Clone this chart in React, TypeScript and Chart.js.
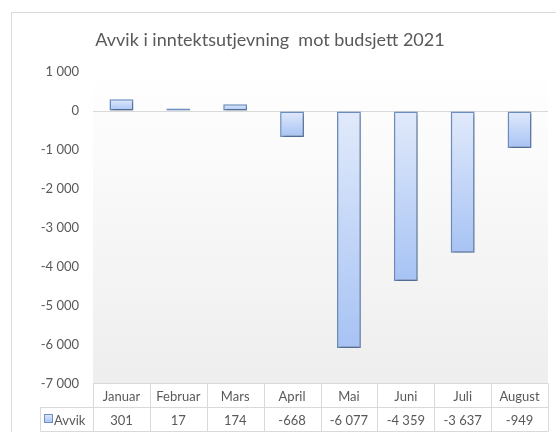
import React, { useEffect, useRef } from "react";
import { Chart, registerables } from "chart.js";

Chart.register(...registerables);

const title = "Avvik i inntektsutjevning  mot budsjett 2021";
const categories = ["Januar", "Februar", "Mars", "April", "Mai", "Juni", "Juli", "August"];
const seriesName = "Avvik";
const values = [301, 17, 174, -668, -6077, -4359, -3637, -949];
const yMin = -7000;
const yMax = 1000;
const yStep = 1000;

const FONT = "Lato, 'Open Sans', sans-serif";
const TEXT = "#595959";
const GRID = "#d9d9d9";

function fmt(n: number): string {
  const s = Math.abs(Math.round(n)).toString().replace(/\B(?=(\d{3})+(?!\d))/g, " ");
  return (n < 0 ? "-" : "") + s;
}

const framePlugin = {
  id: "frame",
  beforeDraw(chart: any) {
    const { ctx, chartArea } = chart;
    ctx.save();
    ctx.fillStyle = "#ffffff";
    ctx.fillRect(0, 0, chart.width, chart.height);
    ctx.strokeStyle = GRID;
    ctx.lineWidth = 1;
    ctx.strokeRect(11.5, 12.5, chart.width + 10, chart.height + 10);
    const g = ctx.createLinearGradient(0, chartArea.top, 0, chartArea.bottom);
    g.addColorStop(0, "#ffffff");
    g.addColorStop(1, "#eeeeee");
    ctx.fillStyle = g;
    ctx.fillRect(chartArea.left, chartArea.top, chartArea.right - chartArea.left, chartArea.bottom - chartArea.top);
    ctx.font = "18px " + FONT;
    ctx.fillStyle = TEXT;
    ctx.textAlign = "center";
    ctx.textBaseline = "middle";
    ctx.fillText(title, 270, 40);
    ctx.restore();
  },
  beforeDatasetsDraw(chart: any) {
    const ctx = chart.ctx;
    ctx.save();
    ctx.shadowColor = "rgba(0,0,0,0.3)";
    ctx.shadowBlur = 3;
    ctx.shadowOffsetX = 1;
    ctx.shadowOffsetY = 2;
  },
  afterDatasetsDraw(chart: any) {
    chart.ctx.restore();
  },
  afterDraw(chart: any) {
    const { ctx, chartArea, scales } = chart;
    const x = scales.x;
    const n = categories.length;
    const left = chartArea.left;
    const right = chartArea.right;
    const colW = (right - left) / n;
    const top = chartArea.bottom - 0.5;
    const mid = top + 24;
    const bot = mid + 24;
    const legLeft = 40.5;
    ctx.save();
    ctx.strokeStyle = GRID;
    ctx.lineWidth = 1;
    ctx.beginPath();
    ctx.moveTo(left, top);
    ctx.lineTo(right, top);
    ctx.moveTo(legLeft, mid);
    ctx.lineTo(right, mid);
    ctx.moveTo(legLeft, bot);
    ctx.lineTo(right, bot);
    ctx.moveTo(legLeft, mid);
    ctx.lineTo(legLeft, bot);
    for (let i = 0; i <= n; i++) {
      const xx = Math.round(left + i * colW) + 0.5;
      ctx.moveTo(xx, top);
      ctx.lineTo(xx, bot);
    }
    ctx.stroke();
    ctx.font = "13px " + FONT;
    ctx.fillStyle = TEXT;
    ctx.textAlign = "center";
    ctx.textBaseline = "middle";
    for (let i = 0; i < n; i++) {
      const cx = x.getPixelForValue(i);
      ctx.fillText(categories[i], cx, (top + mid) / 2 + 1);
      ctx.fillText(fmt(values[i]), cx, (mid + bot) / 2 + 1);
    }
    // legend key
    const g = ctx.createLinearGradient(0, 414, 0, 423);
    g.addColorStop(0, "#e1eafb");
    g.addColorStop(1, "#a7c3f4");
    ctx.fillStyle = g;
    ctx.fillRect(44.5, 414.5, 8, 8);
    ctx.strokeStyle = "#6d8fc4";
    ctx.strokeRect(44.5, 414.5, 8, 8);
    ctx.fillStyle = TEXT;
    ctx.textAlign = "left";
    ctx.fillText(seriesName, 54, (mid + bot) / 2 + 1);
    ctx.restore();
  },
};

export default function App() {
  const ref = useRef<HTMLCanvasElement | null>(null);
  useEffect(() => {
    document.body.style.margin = "0";
    const canvas = ref.current!;
    const chart = new Chart(canvas, {
      type: "bar",
      data: {
        labels: categories,
        datasets: [
          {
            label: seriesName,
            data: values,
            backgroundColor: (c: any) => {
              const ch = c.chart;
              const area = ch.chartArea;
              const ys = ch.scales && ch.scales.y;
              if (!area || !ys || typeof c.raw !== "number") return "#c3d5f7";
              const y0 = ys.getPixelForValue(0);
              const y1 = ys.getPixelForValue(c.raw);
              const t = Math.min(y0, y1);
              const b = Math.max(y0, y1);
              if (b - t < 1) return "#c3d5f7";
              const g = ch.ctx.createLinearGradient(0, t, 0, b);
              g.addColorStop(0, "#e1eafb");
              g.addColorStop(1, "#a7c3f4");
              return g;
            },
            borderColor: "#6d8fc4",
            borderWidth: 1.5,
            borderSkipped: false,
            minBarLength: 2.5,
            barPercentage: 0.42,
            categoryPercentage: 1,
          },
        ],
      },
      options: {
        responsive: false,
        animation: false,
        layout: { padding: { left: 0, right: 8, top: 72, bottom: 48 } },
        plugins: {
          legend: { display: false },
          title: { display: false },
          tooltip: { enabled: false },
        },
        scales: {
          x: { display: false },
          y: {
            min: yMin,
            max: yMax,
            afterFit: (s: any) => {
              s.width = 93;
            },
            border: { display: false },
            grid: {
              drawTicks: false,
              color: (c: any) => (c.tick && c.tick.value === 0 ? GRID : "rgba(0,0,0,0)"),
              lineWidth: 1,
            },
            ticks: {
              stepSize: yStep,
              padding: 14,
              color: TEXT,
              font: { family: FONT, size: 13 },
              callback: (v: any) => fmt(Number(v)),
            },
          },
        },
      },
      plugins: [framePlugin],
    });
    return () => chart.destroy();
  }, []);
  return (
    <div style={{ position: "absolute", left: 0, top: 0, width: 556, height: 432 }}>
      <canvas ref={ref} width={556} height={432} />
    </div>
  );
}
